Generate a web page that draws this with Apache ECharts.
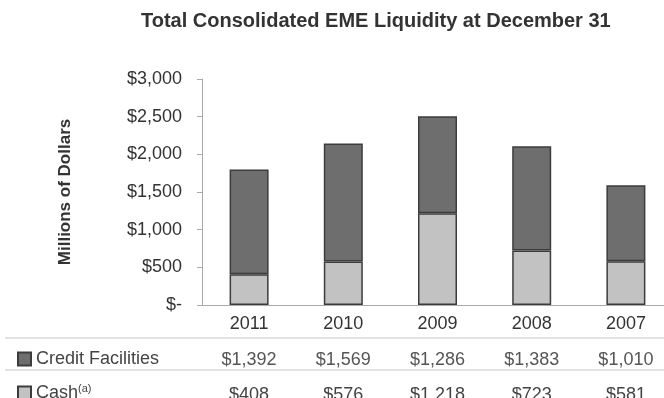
<!DOCTYPE html>
<html>
<head>
<meta charset="utf-8">
<script src="https://cdn.jsdelivr.net/npm/echarts@6/dist/echarts.min.js"></script>
<style>
  html, body { margin: 0; padding: 0; background: #fff; }
  #chart { width: 664px; height: 398px; }
</style>
</head>
<body>
<div id="chart"></div>
<script>
// Year-end liquidity, millions of dollars
const years = ['2011', '2010', '2009', '2008', '2007'];
const creditFacilities = [1392, 1569, 1286, 1383, 1010];
const cash = [408, 576, 1218, 723, 581];

const FONT = 'Liberation Sans, Arial, Helvetica, sans-serif';

function money(v) {
  return v === 0 ? '$-' : '$' + Number(v).toLocaleString('en-US');
}

// Extra category axes below the plot act as the rows of the data table
function tableRow(values, offset, color) {
  return {
    type: 'category',
    data: values.map(money),
    position: 'bottom',
    offset: offset,
    axisLine: { show: false },
    axisTick: { show: false },
    axisLabel: { fontSize: 18, color: color, fontFamily: FONT, margin: 0 }
  };
}

// One legend per table row, used as the row header
function rowLegend(name, top) {
  return {
    data: [name],
    left: 12,
    top: top,
    icon: 'rect',
    itemWidth: 13,
    itemHeight: 13,
    selectedMode: false,
    formatter: function (n) {
      return n === 'Cash(a)' ? '{n|Cash}{s|(a)}' : '{n|' + n + '}';
    },
    textStyle: {
      fontSize: 18,
      lineHeight: 20,
      color: '#444',
      rich: {
        n: { fontSize: 18, color: '#444', fontFamily: FONT },
        s: { fontSize: 11, color: '#444', fontFamily: FONT, verticalAlign: 'top', padding: [0, 0, 8, 0] }
      }
    }
  };
}

const chart = echarts.init(document.getElementById('chart'));

chart.setOption({
  animation: false,
  textStyle: { fontFamily: FONT },
  title: {
    text: 'Total Consolidated EME Liquidity at December 31',
    left: 136,
    top: 6,
    textStyle: { fontSize: 20, fontWeight: 'bold', color: '#333', fontFamily: FONT }
  },
  grid: { left: 202, top: 79, width: 471, height: 226, containLabel: false, outerBoundsMode: 'none' },
  legend: [
    rowLegend('Credit Facilities', 344),
    rowLegend('Cash(a)', 378)
  ],
  graphic: [
    { type: 'line', shape: { x1: 5, y1: 338, x2: 664, y2: 338 }, style: { stroke: '#c8c8c8', lineWidth: 1 } },
    { type: 'line', shape: { x1: 5, y1: 370, x2: 664, y2: 370 }, style: { stroke: '#c8c8c8', lineWidth: 1 } }
  ],
  xAxis: [
    {
      type: 'category',
      data: years,
      axisLine: { lineStyle: { color: '#aaa' } },
      axisTick: { length: 93, lineStyle: { color: '#bbb' } },
      axisLabel: { fontSize: 18, color: '#333', margin: 10 }
    },
    tableRow(creditFacilities, 46, '#555'),
    tableRow(cash, 81, '#444')
  ],
  yAxis: {
    type: 'value',
    min: 0,
    max: 3000,
    interval: 500,
    axisLine: { show: true, lineStyle: { color: '#aaa' } },
    axisTick: { show: true, length: 5, lineStyle: { color: '#aaa' } },
    splitLine: { show: false },
    axisLabel: { formatter: money, fontSize: 18, color: '#333', margin: 20 },
    name: 'Millions of Dollars',
    nameLocation: 'middle',
    nameGap: 128,
    nameTextStyle: { fontSize: 17, fontWeight: 'bold', color: '#333' }
  },
  series: [
    {
      name: 'Cash(a)',
      type: 'bar',
      stack: 'liquidity',
      data: cash,
      barWidth: 39,
      itemStyle: { color: '#c2c2c2', borderColor: '#3c3c3c', borderWidth: 1.5 }
    },
    {
      name: 'Credit Facilities',
      type: 'bar',
      stack: 'liquidity',
      data: creditFacilities,
      barWidth: 39,
      itemStyle: { color: '#6e6e6e', borderColor: '#3c3c3c', borderWidth: 1.5 }
    }
  ]
});
</script>
</body>
</html>
